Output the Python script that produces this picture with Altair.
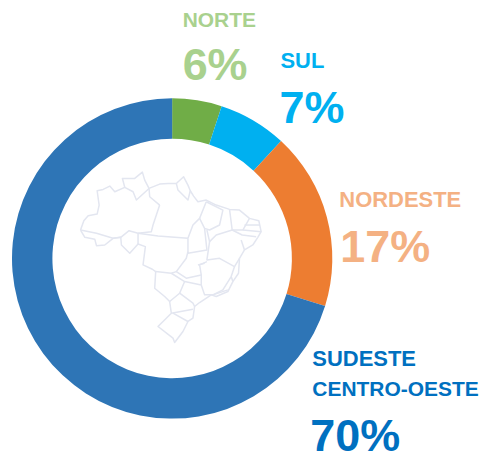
import altair as alt
import pandas as pd

regions = ["NORTE", "SUL", "NORDESTE", "SUDESTE CENTRO-OESTE"]
shares = [5.0, 6.9, 17.9, 70.2]
colors = ["#70AD47", "#00B0F0", "#ED7D31", "#2E75B6"]

# Outline of Brazil and its states, in units of the map picture
map_paths = [
    [(62,240),(72,212),(85,197),(112,192),(118,165),(112,122),(130,118),(150,108),(165,125),(195,112),(188,85),(225,85),(248,66),(255,90),(268,115),(300,102),(325,100),(350,100),(372,80),(385,105),(392,122),(402,138),(415,155),(440,150),(470,165),(510,178),(540,180),(570,205),(598,212),(605,245),(595,262),(580,285),(555,300),(540,325),(537,370),(520,395),(505,425),(470,440),(455,435),(420,458),(405,470),(400,505),(385,515),(370,545),(345,578),(340,565),(295,530),(335,490),(330,455),(315,440),(285,415),(288,365),(278,358),(250,345),(257,290),(235,282),(210,310),(185,285),(183,262),(160,265),(135,285),(110,287),(105,268),(75,262),(62,240)],
    [(62,240),(110,250),(160,265),(183,262)],
    [(300,165),(280,225),(275,245),(235,250),(208,242),(183,262)],
    [(235,250),(235,282)],
    [(235,250),(295,258),(385,265)],
    [(385,265),(400,225),(420,205),(440,155)],
    [(268,115),(230,150),(220,125),(195,112)],
    [(350,100),(355,120),(385,150),(392,122)],
    [(268,115),(270,140),(300,165)],
    [(420,205),(435,235),(442,300),(385,310),(385,265)],
    [(440,155),(490,180),(480,225),(450,240),(435,235)],
    [(510,178),(518,240),(470,255),(450,275),(442,240)],
    [(518,240),(550,240),(570,205)],
    [(555,225),(600,225)],
    [(550,240),(605,245)],
    [(518,240),(548,255),(590,260)],
    [(555,300),(545,270)],
    [(450,275),(442,330),(480,325),(525,350),(540,325)],
    [(385,305),(380,325),(350,365),(380,385),(425,375),(420,345),(442,335)],
    [(415,345),(435,340)],
    [(288,365),(335,370),(350,365)],
    [(335,370),(375,395),(360,430),(330,455)],
    [(525,350),(515,380),(490,420),(460,435),(435,435),(425,405),(375,395)],
    [(425,405),(425,375)],
    [(515,380),(520,395)],
    [(460,435),(505,420)],
    [(360,430),(400,460),(405,470)],
    [(335,490),(400,478)],
    [(340,490),(385,515)],
]

rows = [{"path": i, "step": j, "mx": p[0], "my": p[1]}
        for i, path in enumerate(map_paths) for j, p in enumerate(path)]
map_df = pd.DataFrame(rows)

W, H = 471, 443
CX, CY = 164.5, 250.5

donut_df = pd.DataFrame({"region": regions, "share": shares, "rank": range(4)})
donut = alt.Chart(donut_df).mark_arc(
    radius=160.5, radius2=120, x=CX, y=CY
).encode(
    theta=alt.Theta("share:Q", stack=True, scale=alt.Scale(domain=[0, 100], range=[0, 6.28318530718])),
    order=alt.Order("rank:Q"),
    color=alt.Color("region:N", scale=alt.Scale(domain=regions, range=colors), legend=None),
)

brasil = alt.Chart(map_df).mark_line(
    color="#E3E6F0", strokeWidth=1.5, strokeJoin="round", clip=False
).encode(
    x=alt.X("mx:Q", axis=None, scale=alt.Scale(domain=[0, 660], range=[52, 272])),
    y=alt.Y("my:Q", axis=None, scale=alt.Scale(domain=[0, 600], range=[142, 342])),
    detail="path:N",
    order="step:Q",
)

def label(text, x, y, size, color):
    return alt.Chart(pd.DataFrame({"t": [text]})).mark_text(
        x=x, y=y, align="left", baseline="alphabetic", font="Liberation Sans",
        fontWeight="bold", fontSize=size, color=color, opacity=1,
    ).encode(text="t:N")

labels = [
    label("NORTE", 175, 19, 21, "#A9D18E"),
    label("6%", 175, 72, 45, "#A9D18E"),
    label("SUL", 273, 60, 22, "#00B0F0"),
    label("7%", 272, 115, 45, "#00B0F0"),
    label("NORDESTE", 332, 199, 22, "#F4B183"),
    label("17%", 333, 254, 45, "#F4B183"),
    label("SUDESTE", 305, 358, 22, "#0070C0"),
    label("CENTRO-OESTE", 305, 388, 21, "#0070C0"),
    label("70%", 303, 443, 45, "#0070C0"),
]

chart = alt.layer(brasil, donut, *labels).properties(
    width=W, height=H, padding=0
).configure_view(stroke=None)

chart.save("out.html", embed_options={"renderer": "svg", "actions": False})
